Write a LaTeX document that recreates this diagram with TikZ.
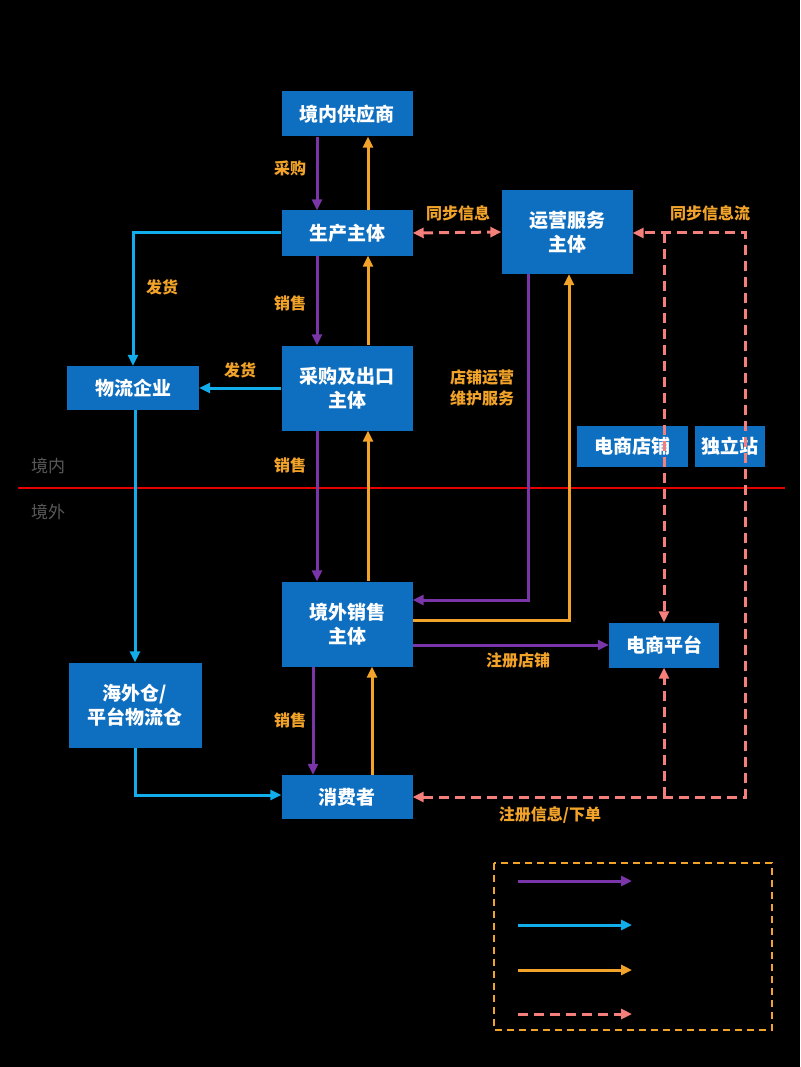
\documentclass[tikz,border=0pt]{standalone}
\usepackage{fontspec}
\setmainfont{Noto Sans CJK SC}
\usetikzlibrary{arrows.meta}
\definecolor{boxblue}{HTML}{0E6FC0}
\definecolor{pur}{HTML}{7A35A8}
\definecolor{cya}{HTML}{12ADEB}
\definecolor{ora}{HTML}{F2A32A}
\definecolor{pnk}{HTML}{F47F7B}
\tikzset{tip/.tip={Triangle[length=11pt,width=10pt]}}
\begin{document}
\begin{tikzpicture}[x=1pt,y=-1pt,
 box/.style={fill=boxblue,text=white,font=\fontsize{19}{24}\selectfont\bfseries,align=center,inner sep=0,minimum width=131,minimum height=45},
 lab/.style={text=ora,font=\fontsize{16}{21}\selectfont\bfseries,align=center},
 ar/.style={line width=3pt,-{tip}},
 P/.style={ar,pur}, C/.style={ar,cya}, O/.style={ar,ora},
 K/.style={ar,pnk,dash pattern=on 10pt off 6pt}]
\fill[black] (0,0) rectangle (800,1067);
\useasboundingbox (0,0) rectangle (800,1067);
\node[box] (sup) at (347,114) {境内供应商};
\node[box] (pro) at (347,233) {生产主体};
\node[box,minimum height=84] (ops) at (567,232) {运营服务\\主体};
\node[box,minimum width=132,minimum height=44] (log) at (133,388) {物流企业};
\node[box,minimum height=85] (exp) at (347,388) {采购及出口\\主体};
\node[box,minimum width=111,minimum height=41] (shop) at (632,446) {电商店铺};
\node[box,minimum width=70,minimum height=41] (ind) at (730,446) {独立站};
\node[box,minimum height=85] (sal) at (347,624) {境外销售\\主体};
\node[box,minimum width=110] (plat) at (664,645) {电商平台};
\node[box,minimum width=133,minimum height=85] (ware) at (135,705) {海外仓/\\平台物流仓};
\node[box,minimum height=44] (con) at (347,797) {消费者};
% border line
\draw[red!90!black,line width=2pt] (18,488) -- (785,488);
\node[text=black!65,font=\fontsize{17}{20}\selectfont] (in) at (48,466) {境内};
\node[text=black!65,font=\fontsize{17}{20}\selectfont] (out) at (48,512) {境外};
% vertical chain
\draw[P] (sup.south -| 317,0) -- (pro.north -| 317,0);
\draw[O] (pro.north -| 368,0) -- (sup.south -| 368,0);
\draw[P] (pro.south -| 317,0) -- (exp.north -| 317,0);
\draw[O] (exp.north -| 368,0) -- (pro.south -| 368,0);
\draw[P] (exp.south -| 317,0) -- (sal.north -| 317,0);
\draw[O] (sal.north -| 368,0) -- (exp.south -| 368,0);
\draw[P] (sal.south -| 313,0) -- (con.north -| 313,0);
\draw[O] (con.north -| 372,0) -- (sal.south -| 372,0);
\node[lab] (l1) at (290,168) {采购};
\node[lab] (l2) at (290,303) {销售};
\node[lab] (l3) at (290,465) {销售};
\node[lab] (l4) at (290,720) {销售};
% logistics
\draw[C] (pro.west) -- (133,233) -- (log.north);
\draw[C] (exp.west |- 0,388) -- (log.east);
\draw[C] (log.south -| 135,0) -- (ware.north);
\draw[C] (ware.south) -- (135,795) -- (con.west |- 0,795);
\node[lab] (l5) at (162,287) {发货};
\node[lab] (l6) at (240,370) {发货};
% ops
\draw[K,{tip}-{tip}] (pro.east) -- (ops.west);
\node[lab] (l7) at (458,213) {同步信息};
\coordinate (c1) at (745,797);
\coordinate (c2) at (745,233);
\draw[K,{tip}-{tip}] (con.east |- 0,797) -- (c1) -- (c2) -- (ops.east |- 0,233);
\node[lab] (l8) at (710,213) {同步信息流};
\draw[K] (664,233) -- (plat.north);
\draw[K] (664,797) -- (plat.south);
\node[lab] (l9) at (550,815) {注册信息/下单};
\draw[P] (ops.south -| 528,0) -- (528,600) -- (sal.east |- 0,600);
\draw[O] (sal.east |- 0,620) -- (569,620) -- (ops.south -| 569,0);
\draw[P] (sal.east |- 0,645) -- (plat.west);
\node[lab] (l10) at (482,388) {店铺运营\\维护服务};
\node[lab] (l11) at (518,660) {注册店铺};
% legend
\draw[ora,line width=2pt,dash pattern=on 7pt off 5pt] (494,863) rectangle (772,1030);
\coordinate (a1) at (518,881); \coordinate (b1) at (632,881);
\coordinate (a2) at (518,925); \coordinate (b2) at (632,925);
\coordinate (a3) at (518,970); \coordinate (b3) at (632,970);
\coordinate (a4) at (518,1014); \coordinate (b4) at (632,1014);
\draw[P] (a1) -- (b1);
\draw[C] (a2) -- (b2);
\draw[O] (a3) -- (b3);
\draw[K] (a4) -- (b4);
\end{tikzpicture}
\end{document}
